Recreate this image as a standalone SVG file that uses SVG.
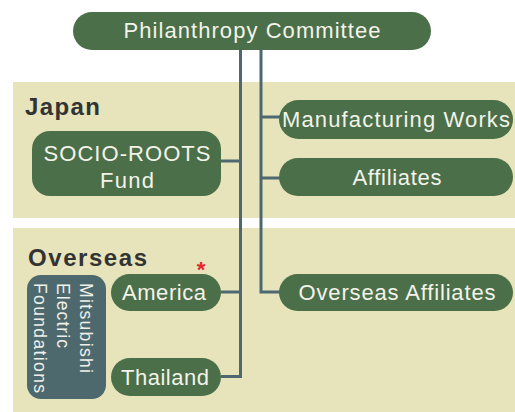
<svg xmlns="http://www.w3.org/2000/svg" width="515" height="412" viewBox="0 0 515 412">
<style>
.panel{fill:#e7e4bb}
.node{fill:#4b6f48}
.slate{fill:#4e696d}
.lbl{font-family:"Liberation Sans",Arial,sans-serif;font-size:22px;fill:#f3f3ea;text-anchor:middle}
.vlbl{font-family:"Liberation Sans",Arial,sans-serif;font-size:17.5px;fill:#eef0ea}
.sec{font-family:"Liberation Sans",Arial,sans-serif;font-size:24px;font-weight:bold;fill:#333}
.conn{fill:none;stroke:#4d6870;stroke-width:3}
</style>
<rect width="515" height="412" fill="#ffffff"/>
<rect class="panel" x="13" y="82" width="502" height="136"/>
<rect class="panel" x="13" y="228" width="502" height="184"/>
<text class="sec" x="25" y="115" textLength="75" lengthAdjust="spacing">Japan</text>
<text class="sec" x="28" y="266" textLength="119" lengthAdjust="spacing">Overseas</text>
<g id="connectors">
<path class="conn" d="M240.5 50 V376.5 H221"/>
<path class="conn" d="M221 161 H240.5"/>
<path class="conn" d="M221 292 H240.5"/>
<path class="conn" d="M261 50 V292 H280"/>
<path class="conn" d="M261 117 H280"/>
<path class="conn" d="M261 178 H280"/>
</g>
<g id="philanthropy">
<rect class="node" x="73" y="12" width="358" height="38" rx="19"/>
<text class="lbl" x="252" y="38" textLength="257" lengthAdjust="spacing">Philanthropy Committee</text>
</g>
<g id="manufacturing">
<rect class="node" x="279" y="100" width="234" height="39" rx="19.5"/>
<text class="lbl" x="396" y="127" textLength="228" lengthAdjust="spacing">Manufacturing Works</text>
</g>
<g id="socioroots">
<rect class="node" x="32" y="131" width="189" height="65" rx="18"/>
<text class="lbl" x="127" y="161" textLength="167" lengthAdjust="spacing">SOCIO-ROOTS</text>
<text class="lbl" x="127" y="188" textLength="54" lengthAdjust="spacing">Fund</text>
</g>
<g id="affiliates">
<rect class="node" x="279" y="158" width="234" height="38" rx="19"/>
<text class="lbl" x="397" y="185" textLength="89" lengthAdjust="spacing">Affiliates</text>
</g>
<g id="overseas-affiliates">
<rect class="node" x="279" y="274" width="234" height="37" rx="18.5"/>
<text class="lbl" x="397" y="300" textLength="197" lengthAdjust="spacing">Overseas Affiliates</text>
</g>
<g id="mitsubishi-foundations">
<rect class="slate" x="27" y="275" width="79" height="124" rx="14"/>
<text class="vlbl" x="80" y="283" transform="rotate(90 80 283)" textLength="90" lengthAdjust="spacing">Mitsubishi</text>
<text class="vlbl" x="57" y="283" transform="rotate(90 57 283)" textLength="65" lengthAdjust="spacing">Electric</text>
<text class="vlbl" x="34" y="283" transform="rotate(90 34 283)" textLength="110" lengthAdjust="spacing">Foundations</text>
</g>
<g id="america">
<rect class="node" x="111" y="274" width="110" height="37" rx="18.5"/>
<text class="lbl" x="164" y="300" textLength="84" lengthAdjust="spacing">America</text>
<text x="201" y="277" font-family="Liberation Sans,Arial,sans-serif" font-size="22" font-weight="bold" fill="#e8242a" text-anchor="middle">*</text>
</g>
<g id="thailand">
<rect class="node" x="111" y="358" width="110" height="38" rx="19"/>
<text class="lbl" x="165" y="385" textLength="88" lengthAdjust="spacing">Thailand</text>
</g>
</svg>
